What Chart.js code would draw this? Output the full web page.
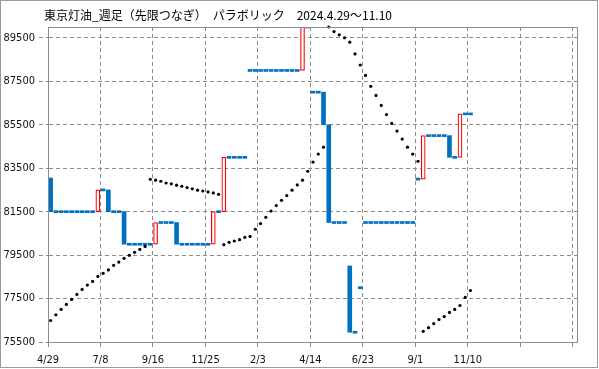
<!DOCTYPE html>
<html>
<head>
<meta charset="utf-8">
<script src="https://cdn.jsdelivr.net/npm/chart.js@4.4.1/dist/chart.umd.min.js"></script>
<style>
  html, body { margin: 0; padding: 0; background: #fff; }
  #wrap { position: relative; width: 599px; height: 369px; }
  #title { position: absolute; left: 44px; top: 6px; font: 12px "Noto Sans CJK JP", sans-serif; line-height: 17px; color: #000; white-space: pre; }
</style>
</head>
<body>
<div id="wrap">
  <canvas id="chart" width="599" height="369"></canvas>
  <div id="title">東京灯油_週足（先限つなぎ）　パラボリック　2024.4.29〜11.10</div>
</div>
<script>
// weekly open / close (index = week from 4/29)
var open = [
  83050, 81500, 81500, 81500, 81500, 81500, 81500, 81500, 81500, 81500,
  82500, 82500, 81500, 81500, 81500, 80000, 80000, 80000, 80000, 80000,
  80000, 81000, 81000, 81000, 81000, 80000, 80000, 80000, 80000, 80000,
  80000, 80000, 81500, 81500, 84000, 84000, 84000, 84000, 88000, 88000,
  88000, 88000, 88000, 88000, 88000, 88000, 88000, 88000, 88000, 90000,
  87000, 87000, 87000, 85500, 81000, 81000, 81000, 79000, 75950, 78000,
  81000, 81000, 81000, 81000, 81000, 81000, 81000, 81000, 81000, 81000,
  83000, 83000, 85000, 85000, 85000, 85000, 85000, 84000, 84000, 86000,
  86000
];
var close = [
  81500, 81500, 81500, 81500, 81500, 81500, 81500, 81500, 81500, 82500,
  82500, 81500, 81500, 81500, 80000, 80000, 80000, 80000, 80000, 80000,
  81000, 81000, 81000, 81000, 80000, 80000, 80000, 80000, 80000, 80000,
  80000, 81500, 81500, 84000, 84000, 84000, 84000, 84000, 88000, 88000,
  88000, 88000, 88000, 88000, 88000, 88000, 88000, 88000, 90000, 90000,
  87000, 87000, 85500, 81000, 81000, 81000, 81000, 75950, 75950, 78000,
  81000, 81000, 81000, 81000, 81000, 81000, 81000, 81000, 81000, 81000,
  83000, 85000, 85000, 85000, 85000, 85000, 84000, 84000, 86000, 86000,
  86000
];
// parabolic SAR
var sar = [
  76490, 76750, 77000, 77230, 77460, 77690, 77920, 78120, 78290, 78520,
  78660, 78820, 79030, 79180, 79350, 79490, 79630, 79760, 79900, 82990,
  82950, 82900, 82820, 82780, 82720, 82670, 82610, 82550, 82490, 82450,
  82410, 82360, 82300, 79980, 80090, 80150, 80210, 80320, 80360, 80690,
  80950, 81240, 81530, 81780, 82020, 82240, 82490, 82730, 82950, 83360,
  83780, 84150, 84470, 90000, 89790, 89640, 89500, 89300, 88760, 88250,
  87770, 87270, 86850, 86390, 85970, 85560, 85210, 84840, 84470, 84150,
  83820, 75990, 76160, 76350, 76530, 76670, 76860, 77000, 77180, 77550,
  77870
];
var xTickWeeks = [0, 10, 20, 30, 40, 50, 60, 70, 80, 90, 100];
var xTickLabels = ['4/29', '7/8', '9/16', '11/25', '2/3', '4/14', '6/23', '9/1', '11/10', '', ''];
var yTicks = [75500, 77500, 79500, 81500, 83500, 85500, 87500, 89500];

var FLAT = 46; // half height of a flat week's dash
var isUp = open.map(function (o, i) { return close[i] > o; });
var bars = open.map(function (o, i) {
    var lo = Math.min(o, close[i]), hi = Math.max(o, close[i]);
    if (lo === hi) { lo -= FLAT; hi += FLAT; }
    return { x: i + 0.5, y: [lo, hi] };
});
var dots = sar.map(function (v, i) { return { x: i + 0.5, y: v }; });

var frames = {
    id: 'frames',
    afterDraw: function (chart) {
        var ctx = chart.ctx, a = chart.chartArea;
        ctx.save();
        ctx.strokeStyle = '#8c8c8c';
        ctx.lineWidth = 1;
        ctx.strokeRect(Math.round(a.left) + 0.5, Math.round(a.top) + 0.5,
            Math.round(a.right - a.left), Math.round(a.bottom - a.top));
        ctx.strokeStyle = '#9a9a9a';
        ctx.strokeRect(0.5, 0.5, 597, 367);
        ctx.restore();
    }
};

var tickFont = { family: 'Tahoma, "DejaVu Sans Condensed", "DejaVu Sans", sans-serif', size: 11 };

new Chart(document.getElementById('chart'), {
    type: 'bar',
    data: {
        datasets: [{
            type: 'bar',
            data: bars,
            backgroundColor: isUp.map(function (u) { return u ? '#ffffff' : '#0070c0'; }),
            borderColor: isUp.map(function (u) { return u ? '#ff0000' : '#0070c0'; }),
            borderWidth: isUp.map(function (u) { return u ? 1.2 : 0; }),
            borderSkipped: false,
            barThickness: 4,
            order: 2
        }, {
            type: 'scatter',
            data: dots,
            pointRadius: 1.6,
            pointBorderWidth: 0,
            backgroundColor: '#000',
            borderColor: '#000',
            clip: false,
            order: 1
        }]
    },
    plugins: [frames],
    options: {
        responsive: false,
        animation: false,
        layout: { padding: { top: 27, right: 22, left: 0, bottom: 0 } },
        plugins: { legend: { display: false }, tooltip: { enabled: false }, title: { display: false } },
        scales: {
            x: {
                type: 'linear',
                offset: false,
                min: 0,
                max: 100.8,
                afterBuildTicks: function (s) { s.ticks = xTickWeeks.map(function (v) { return { value: v }; }); },
                afterFit: function (s) { s.height = 27; },
                ticks: {
                    autoSkip: false, maxRotation: 0, padding: 6,
                    color: '#111', font: tickFont,
                    callback: function (v, i) { return xTickLabels[i]; }
                },
                grid: { offset: false, color: '#8c8c8c', tickLength: 6, tickBorderDash: [4, 3], tickColor: '#8c8c8c' },
                border: { color: '#8c8c8c', dash: [4, 3] }
            },
            y: {
                min: 75500,
                max: 90000,
                afterBuildTicks: function (s) { s.ticks = yTicks.map(function (v) { return { value: v }; }); },
                afterFit: function (s) { s.width = 48; },
                ticks: { padding: 4, color: '#111', font: tickFont, callback: function (v) { return String(v); } },
                grid: { color: '#8c8c8c', tickLength: 9, tickBorderDash: [4, 3], tickColor: '#8c8c8c' },
                border: { color: '#8c8c8c', dash: [4, 3] }
            }
        }
    }
});
</script>
</body>
</html>
